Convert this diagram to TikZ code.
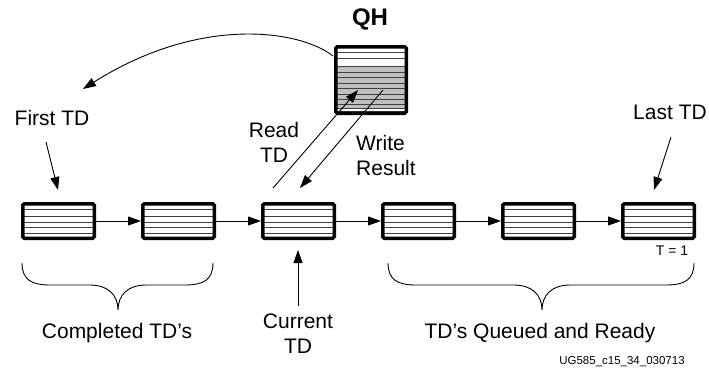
\documentclass[tikz,border=0pt]{standalone}
\usepackage{fontspec}
\setmainfont{Liberation Sans}
\usetikzlibrary{arrows.meta,calc}
\begin{document}
\begin{tikzpicture}[x=1pt,y=-1pt,
  conn/.style={line width=0.9pt, -{Triangle[length=13pt,width=9pt]}},
  plain/.style={line width=0.9pt},
  lbl/.style={inner sep=0pt, font=\fontsize{21}{25}\selectfont, align=center},
  stripe/.style={line width=0.9pt, black!75},
  tdbox/.style={draw, line width=3.5pt, rounded corners=1.5pt,
    minimum width=71.5pt, minimum height=34.5pt, inner sep=0pt,
    path picture={
      \foreach \o in {12,5,-1,-6,-12}{
        \draw[stripe] ([yshift=\o pt]path picture bounding box.west) -- ([yshift=\o pt]path picture bounding box.east);
      }}},
  qhbox/.style={draw, line width=3.5pt, rounded corners=1.5pt,
    minimum width=70.5pt, minimum height=66.5pt, inner sep=0pt,
    path picture={
      \fill[black!25] ([yshift=14pt]path picture bounding box.west) rectangle ([yshift=-28pt]path picture bounding box.east);
      \foreach \o in {28,22,14,8,3,-3,-8,-14,-19,-24,-28,-31}{
        \draw[stripe] ([yshift=\o pt]path picture bounding box.west) -- ([yshift=\o pt]path picture bounding box.east);
      }}}
]
\useasboundingbox (0,0) rectangle (709,380);

% TD chain
\foreach \i/\x in {1/58.5,2/178.5,3/298.5,4/418.5,5/538.5,6/658.5}
  \node[tdbox] (td\i) at (\x,221) {};
\foreach \i/\j in {1/2,2/3,3/4,4/5,5/6}
  \draw[conn] (td\i) -- (td\j);

% QH
\node[qhbox] (qh) at (371,80) {};
\node[inner sep=0pt, font=\bfseries\fontsize{24}{26}\selectfont] (qhlabel) at (370,19) {QH};

% curve from QH to first TD
\coordinate (cvs) at (333,56);
\coordinate (cve) at (83,89);
\draw[conn] (cvs) .. controls (300,30) and (200,15) .. (cve);

% First / Last TD
\node[lbl] (first) at (52,118) {First TD};
\coordinate (fs) at (46,142);
\coordinate (fe) at (58,190);
\draw[conn] (fs) -- (fe);

\node[lbl] (last) at (670,112) {Last TD};
\coordinate (ls) at (671,137);
\coordinate (le) at (654,190);
\draw[conn] (ls) -- (le);

% Read / Write
\coordinate (rs) at (273,188);
\coordinate (re) at (358,90);
\draw[conn] (rs) -- (re);
\coordinate (ws) at (383,90);
\coordinate (we) at (300,188);
\draw[conn] (ws) -- (we);
\node[lbl] (read) at (274,142) {Read\\TD};
\node[lbl, align=left, anchor=west] (write) at (356,155) {Write\\Result};

% Current TD
\node[lbl] (current) at (298,334) {Current\\TD};
\coordinate (cs) at (298,306);
\coordinate (ce) at (298,250);
\draw[conn] (cs) -- (ce);

% T = 1
\node[inner sep=0pt, font=\fontsize{14}{16}\selectfont] (tone) at (672,251) {T = 1};

% braces
\draw[plain] (22,263) .. controls (22,280) and (32,285) .. (50,285) -- (90,285)
  .. controls (108,285) and (118,295) .. (118,310)
  .. controls (118,295) and (128,285) .. (146,285) -- (185,285)
  .. controls (203,285) and (213,280) .. (213,263);
\draw[plain] (388,263) .. controls (388,280) and (398,285) .. (416,285) -- (514,285)
  .. controls (532,285) and (542,295) .. (542,310)
  .. controls (542,295) and (552,285) .. (570,285) -- (666,285)
  .. controls (684,285) and (694,280) .. (694,263);

\node[lbl] (completed) at (117,333) {Completed TD’s};
\node[lbl] (queued) at (540,333) {TD’s Queued and Ready};
\node[inner sep=0pt, font=\fontsize{11.5}{13}\selectfont] (ug) at (622,362) {UG585\_c15\_34\_030713};
\end{tikzpicture}
\end{document}
